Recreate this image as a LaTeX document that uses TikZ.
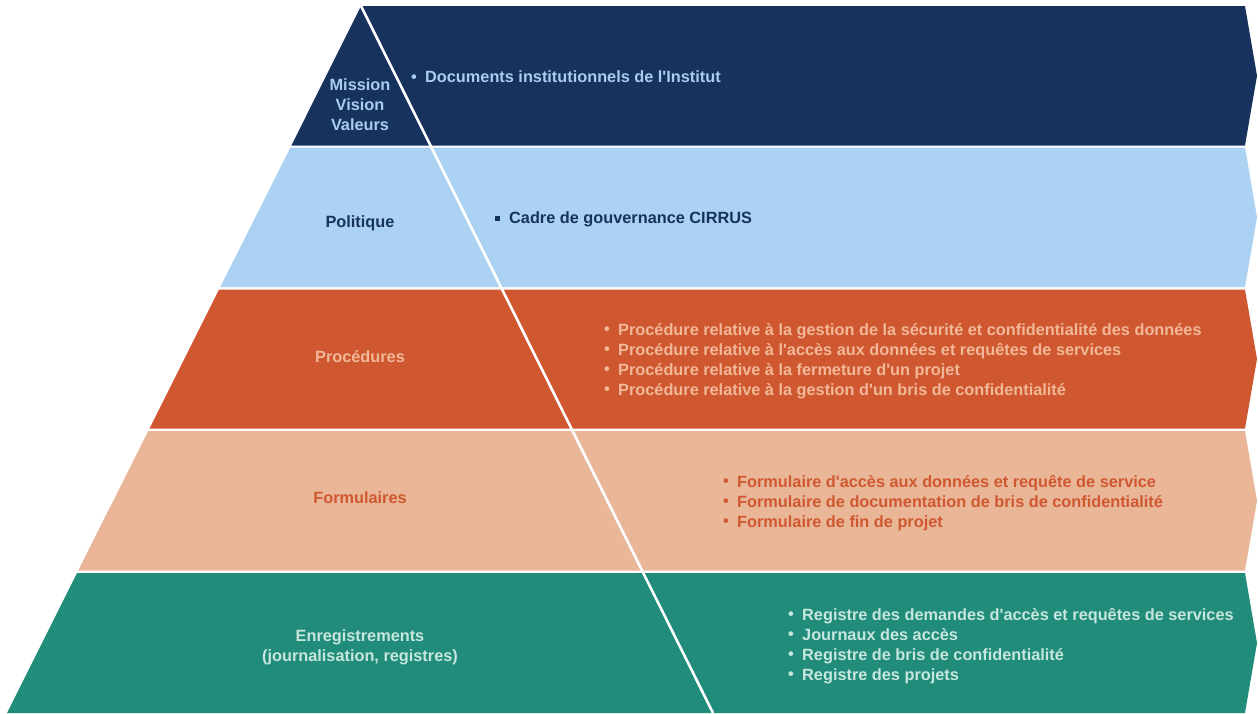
\documentclass[tikz,border=0pt]{standalone}
\usepackage{fontspec}
\setmainfont{Liberation Sans}
\definecolor{navy}{HTML}{17325C}
\definecolor{lblue}{HTML}{ABD2F2}
\definecolor{orng}{HTML}{D05830}
\definecolor{salmon}{HTML}{E9B698}
\definecolor{teal}{HTML}{218C7A}
\definecolor{tblue}{HTML}{A9CDEE}
\definecolor{tsalmon}{HTML}{F0B898}
\definecolor{tteal}{HTML}{C6E6DE}
\newcommand{\bul}{\makebox[14pt][l]{\raisebox{0.5pt}{\textbullet}}}
\newcommand{\sqb}{\makebox[14pt][l]{\raisebox{3pt}{\rule{4.5pt}{4.5pt}}}}
\newcommand{\ap}{\textquotesingle}
\tikzset{
  lbl/.style={font=\bfseries\fontsize{16.3}{20}\selectfont, align=center},
  lst/.style={font=\bfseries\fontsize{16.3}{20}\selectfont, align=left, anchor=west, inner sep=0pt},
  sep/.style={white, line width=2.6pt}
}
\begin{document}
\begin{tikzpicture}[x=1pt,y=-1pt]
\useasboundingbox (0,0) rectangle (1258,713);
% band fills: left edge x = 361 - 0.5007*(y-6)
\fill[navy] (361,6) -- (1245,6) -- (1257,75.75) -- (1245,145.5) -- (291.4,145.5) -- cycle;
\fill[lblue] (290.4,147.5) -- (1245,147.5) -- (1257,217.25) -- (1245,287) -- (220.3,287) -- cycle;
\fill[orng] (219.1,289.5) -- (1245,289.5) -- (1257,359) -- (1245,428.5) -- (149.5,428.5) -- cycle;
\fill[salmon] (148.2,431) -- (1245,431) -- (1257,500.75) -- (1245,570.5) -- (78.3,570.5) -- cycle;
\fill[teal] (77.0,573) -- (1245,573) -- (1257,643) -- (1245,713) -- (7,713) -- cycle;
% diagonal separator
\coordinate (apex) at (361,6);
\coordinate (foot) at (713,713);
\draw[sep] (apex) -- (foot);
% labels
\node[lbl, text=tblue] (l1) at (360,105) {Mission\\Vision\\Valeurs};
\node[lbl, text=navy] (l2) at (360,223) {Politique};
\node[lbl, text=tsalmon] (l3) at (360,357) {Procédures};
\node[lbl, text=orng] (l4) at (360,498) {Formulaires};
\node[lbl, text=tteal] (l5) at (360,647.5) {Enregistrements\\(journalisation, registres)};
% lists
\node[lst, text=tblue] (r1) at (411,77) {\bul Documents institutionnels de l\ap Institut};
\node[lst, text=navy] (r2) at (495,219.5) {\sqb Cadre de gouvernance CIRRUS};
\node[lst, text=tsalmon] (r3) at (604,361) {\bul Procédure relative à la gestion de la sécurité et confidentialité des données\\
\bul Procédure relative à l\ap accès aux données et requêtes de services\\
\bul Procédure relative à la fermeture d\ap un projet\\
\bul Procédure relative à la gestion d\ap un bris de confidentialité};
\node[lst, text=orng] (r4) at (723,503) {\bul Formulaire d\ap accès aux données et requête de service\\
\bul Formulaire de documentation de bris de confidentialité\\
\bul Formulaire de fin de projet};
\node[lst, text=tteal] (r5) at (788,646) {\bul Registre des demandes d\ap accès et requêtes de services\\
\bul Journaux des accès\\
\bul Registre de bris de confidentialité\\
\bul Registre des projets};
\end{tikzpicture}
\end{document}
